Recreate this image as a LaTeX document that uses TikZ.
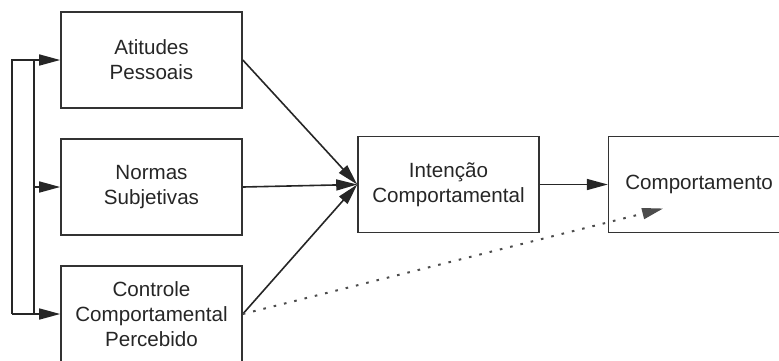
\documentclass[tikz,border=0pt]{standalone}
\usepackage{fontspec}
\setmainfont{Liberation Sans}
\usepackage{tikz}
\usetikzlibrary{arrows.meta,positioning,calc}

\begin{document}
\begin{tikzpicture}[
    x=0.5pt, y=-0.5pt,
    box/.style={draw=black!80, line width=0.8pt, rectangle, align=center,
        minimum width=90.5pt, minimum height=48pt, inner sep=2pt,
        font=\fontsize{10.3pt}{12.5pt}\selectfont, text=black!85},
    arr/.style={draw=black!85, line width=0.8pt, -{Triangle[length=10.5pt,width=5.5pt]}},
    link/.style={draw=black!85, line width=0.8pt},
    dotarr/.style={draw=black!70, line width=1pt, dash pattern=on 1.3pt off 4pt,
        -{Triangle[length=10.5pt,width=5.5pt]}},
    node distance=14.7pt
]
    \useasboundingbox (0,0) rectangle (779,360);

    \node[box] (atitudes) at (151.5,60) {Atitudes\\Pessoais};
    \node[box, below=of atitudes] (normas) {Normas\\Subjetivas};
    \node[box, below=of normas] (controle) {Controle\\Comportamental\\Percebido};
    \node[box] (intencao) at (448.5,184.5) {Inten\c{c}\~ao\\Comportamental};
    \node[box, right=34pt of intencao] (comport) {Comportamento};

    % Feedback lines on the left
    \coordinate (outerbot) at ([xshift=-24pt]controle.west);
    \coordinate (innertop) at ([xshift=-13pt]atitudes.west);
    \coordinate (innermid) at ([xshift=-13pt]normas.west);
    \coordinate (innerbot) at ([xshift=-13pt]controle.west);
    \draw[arr] (outerbot) |- (atitudes.west);
    \draw[arr] (outerbot) -- (controle.west);
    \draw[link] (innertop) -- (innerbot);
    \draw[arr] (innermid) -- (normas.west);

    % Towards intention
    \draw[arr] (atitudes.east) -- (intencao.west);
    \draw[arr] (normas.east) -- (intencao.west);
    \draw[arr] (controle.east) -- (intencao.west);
    \draw[arr] (intencao.east) -- (comport.west);

    % Direct effect
    \coordinate (dotend) at ([xshift=-18pt,yshift=-12pt]comport.center);
    \draw[dotarr] (controle.east) -- (dotend);
\end{tikzpicture}
\end{document}
